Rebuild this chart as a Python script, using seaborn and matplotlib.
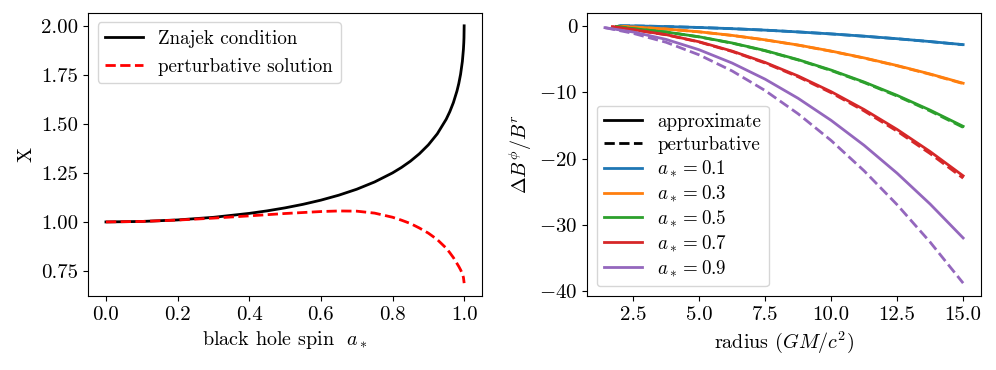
import numpy as np
import pandas as pd
import matplotlib
matplotlib.use("Agg")
import matplotlib.pyplot as plt
from matplotlib.lines import Line2D
import seaborn as sns

plt.rcParams.update({
    "font.family": "serif",
    "font.serif": ["cmr10"],
    "mathtext.fontset": "cm",
    "axes.formatter.use_mathtext": True,
    "font.size": 14,
    "xtick.labelsize": 15,
    "ytick.labelsize": 15,
    "axes.labelsize": 14.5,
    "legend.fontsize": 13.7,
    "axes.unicode_minus": True,
})

# ---- left panel data ----
spin = [0.0, 0.1, 0.2, 0.3, 0.4, 0.45, 0.5, 0.55, 0.6, 0.65, 0.7, 0.75, 0.8, 0.825,
        0.85, 0.875, 0.9, 0.925, 0.95, 0.96, 0.97, 0.98, 0.985, 0.99, 0.995,
        0.998, 0.999, 0.9995, 1.0]
znajek_X = [1.0, 1.0025, 1.0102, 1.0235, 1.0436, 1.0565, 1.0718, 1.0898, 1.1111,
            1.1364, 1.1667, 1.2039, 1.25, 1.2778, 1.3098, 1.3476, 1.3929, 1.4493,
            1.5240, 1.5625, 1.6088, 1.6681, 1.7057, 1.7527, 1.8184, 1.8811,
            1.9144, 1.9387, 2.0]
spin_pert = [0.0, 0.1, 0.2, 0.3, 0.4, 0.45, 0.5, 0.55, 0.6, 0.65, 0.7, 0.75, 0.8,
             0.825, 0.85, 0.875, 0.9, 0.925, 0.95, 0.96, 0.97, 0.98, 0.985, 0.99,
             0.995, 0.998, 1.0]
pert_X = [1.0, 1.0025, 1.0095, 1.0195, 1.031, 1.037, 1.043, 1.048, 1.053, 1.056,
          1.055, 1.045, 1.024, 1.009, 0.992, 0.969, 0.943, 0.910, 0.866, 0.843,
          0.818, 0.788, 0.773, 0.756, 0.736, 0.717, 0.688]

# ---- right panel data ----
spins = [0.1, 0.3, 0.5, 0.7, 0.9]
horizon = [1.995, 1.954, 1.866, 1.714, 1.436]
radius_grid = [2.5, 3.75, 5.0, 6.25, 7.5, 8.75, 10.0, 11.25, 12.5, 13.75, 15.0]

approx_vals = {
    0.1: [-0.02, -0.03, -0.13, -0.27, -0.45, -0.67, -0.94, -1.24, -1.58, -1.96, -2.39, -2.85],
    0.3: [-0.10, -0.20, -0.50, -0.92, -1.46, -2.13, -2.91, -3.82, -4.85, -6.00, -7.27, -8.66],
    0.5: [-0.12, -0.45, -0.95, -1.67, -2.60, -3.74, -5.11, -6.68, -8.48, -10.49, -12.71, -15.15],
    0.7: [-0.15, -0.60, -1.35, -2.42, -3.82, -5.53, -7.57, -9.93, -12.62, -15.62, -18.95, -22.60],
    0.9: [-0.30, -0.95, -2.06, -3.62, -5.62, -8.05, -10.93, -14.25, -18.01, -22.21, -26.85, -31.95],
}
pert_vals = {
    0.1: [-0.02, -0.03, -0.13, -0.27, -0.45, -0.67, -0.94, -1.24, -1.59, -1.97, -2.40, -2.87],
    0.3: [-0.10, -0.20, -0.50, -0.93, -1.47, -2.14, -2.93, -3.85, -4.88, -6.04, -7.32, -8.72],
    0.5: [-0.12, -0.45, -0.96, -1.69, -2.63, -3.78, -5.16, -6.75, -8.56, -10.59, -12.84, -15.30],
    0.7: [-0.15, -0.61, -1.37, -2.46, -3.88, -5.62, -7.69, -10.09, -12.83, -15.88, -19.25, -22.95],
    0.9: [-0.30, -1.15, -2.50, -4.39, -6.81, -9.76, -13.26, -17.28, -21.85, -26.95, -32.58, -38.75],
}

colors = sns.color_palette("tab10", 5)

fig = plt.figure(figsize=(9.96, 3.70), dpi=100)
ax1 = fig.add_axes([0.0884, 0.2, 0.3956, 0.765])
ax2 = fig.add_axes([0.5894, 0.2, 0.3956, 0.765])

sns.lineplot(x=spin, y=znajek_X, ax=ax1, color="black", lw=2, label="Znajek condition", sort=False)
sns.lineplot(x=spin_pert, y=pert_X, ax=ax1, color="red", lw=2, linestyle="--",
             label="perturbative solution", sort=False)
ax1.set_xlabel(r"black hole spin  $a_*$")
ax1.set_ylabel("X")
ax1.set_yticks([0.75, 1.0, 1.25, 1.5, 1.75, 2.0])
ax1.set_yticklabels(["0.75", "1.00", "1.25", "1.50", "1.75", "2.00"])
ax1.set_xticks([0.0, 0.2, 0.4, 0.6, 0.8, 1.0])
ax1.set_xticklabels(["0.0", "0.2", "0.4", "0.6", "0.8", "1.0"])
ax1.legend(loc="upper left")

for a, rh, c in zip(spins, horizon, colors):
    r = [rh] + radius_grid
    sns.lineplot(x=r, y=approx_vals[a], ax=ax2, color=c, lw=2, sort=False)
    sns.lineplot(x=r, y=pert_vals[a], ax=ax2, color=c, lw=2, linestyle="--", sort=False)
ax2.set_xlabel(r"radius $(GM/c^2)$")
ax2.set_ylabel(r"$\Delta B^\phi/B^r$")
ax2.set_xticks([2.5, 5.0, 7.5, 10.0, 12.5, 15.0])
ax2.set_xticklabels(["2.5", "5.0", "7.5", "10.0", "12.5", "15.0"])
ax2.set_yticks([0, -10, -20, -30, -40])
ax2.set_yticklabels(["0", r"$-10$", r"$-20$", r"$-30$", r"$-40$"])

handles = [Line2D([], [], color="black", lw=2),
           Line2D([], [], color="black", lw=2, linestyle="--")]
labels = ["approximate", "perturbative"]
for a, c in zip(spins, colors):
    handles.append(Line2D([], [], color=c, lw=2))
    labels.append(r"$a_* = %.1f$" % a)
ax2.legend(handles, labels, loc="lower left", labelspacing=0.25)

fig.savefig("out.png", dpi=100)
